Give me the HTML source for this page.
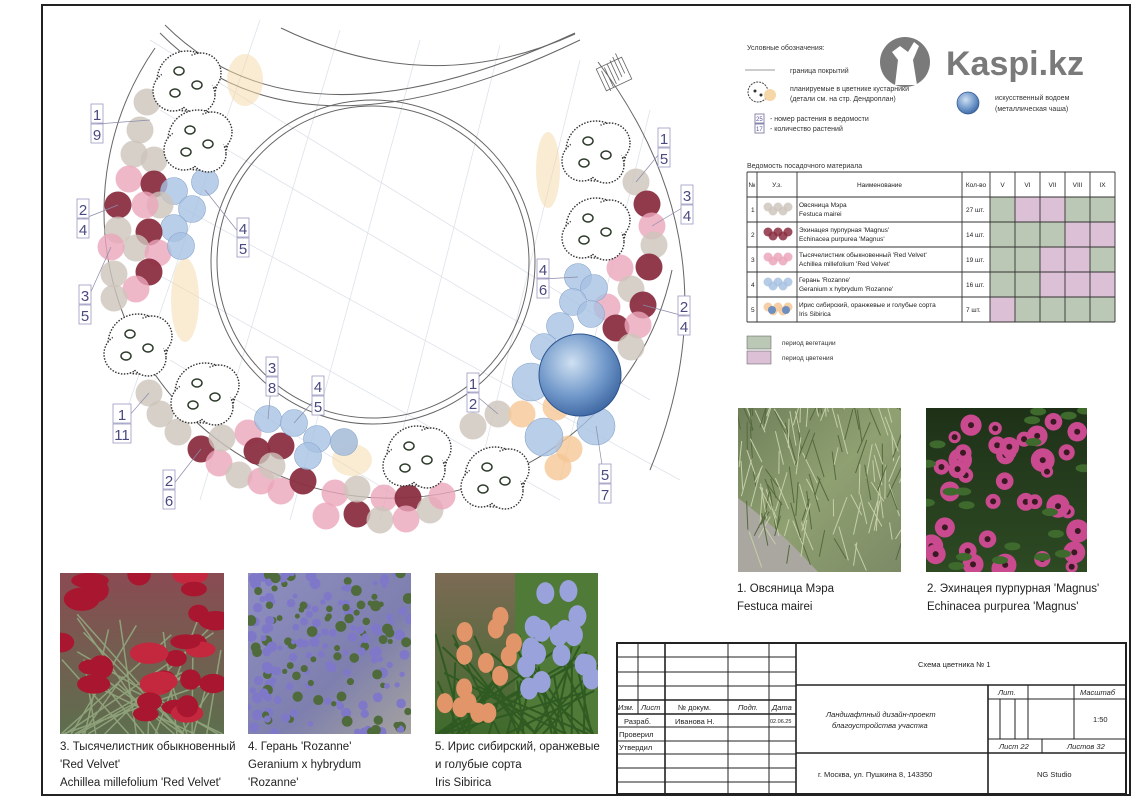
<!DOCTYPE html>
<html><head><meta charset="utf-8"><style>
html,body{margin:0;padding:0;background:#fff}
svg{display:block}
text{font-family:"Liberation Sans","DejaVu Sans",sans-serif}
</style></head><body>
<svg id="s" width="1135" height="803" viewBox="0 0 1135 803" xmlns="http://www.w3.org/2000/svg">
<defs>
<radialGradient id="water" cx="40%" cy="35%" r="70%"><stop offset="0" stop-color="#cfe0f2"/><stop offset="0.6" stop-color="#6f97c9"/><stop offset="1" stop-color="#3b64a0"/></radialGradient>
<linearGradient id="g1" x1="0" y1="0" x2="1" y2="1"><stop offset="0" stop-color="#6f7f5a"/><stop offset="0.5" stop-color="#8fa071"/><stop offset="1" stop-color="#7c8a66"/></linearGradient>
<linearGradient id="g2" x1="0" y1="0" x2="0" y2="1"><stop offset="0" stop-color="#1e3118"/><stop offset="1" stop-color="#2d4a23"/></linearGradient>
<linearGradient id="g3" x1="0" y1="0" x2="0" y2="1"><stop offset="0" stop-color="#8a4b52"/><stop offset="1" stop-color="#5d6f4e"/></linearGradient>
<linearGradient id="g4" x1="0" y1="0" x2="1" y2="1"><stop offset="0" stop-color="#8e8fc0"/><stop offset="0.6" stop-color="#7e7fae"/><stop offset="1" stop-color="#a5a39f"/></linearGradient>
<linearGradient id="g5" x1="0" y1="0" x2="0" y2="1"><stop offset="0" stop-color="#7c6a55"/><stop offset="1" stop-color="#3f6b2c"/></linearGradient>
</defs>
<rect x="42" y="5" width="1088" height="790" fill="none" stroke="#222" stroke-width="2"/>

<g stroke="#dde3ea" stroke-width="0.8" fill="none">
<line x1="150" y1="40" x2="620" y2="330"/><line x1="160" y1="110" x2="650" y2="400"/><line x1="150" y1="190" x2="680" y2="480"/><line x1="150" y1="270" x2="560" y2="500"/><line x1="170" y1="360" x2="420" y2="510"/>
<line x1="260" y1="20" x2="120" y2="430"/><line x1="340" y1="30" x2="200" y2="500"/><line x1="420" y1="40" x2="290" y2="520"/><line x1="500" y1="45" x2="380" y2="520"/><line x1="580" y1="60" x2="470" y2="510"/><line x1="650" y1="110" x2="560" y2="480"/>
</g>
<g fill="none" stroke="#666" stroke-width="1">
<path d="M165 25 Q300 160 575 33"/><path d="M160 33 Q300 175 580 40"/>
<path d="M281 28 Q430 100 575 34"/>
<path d="M598 62 Q740 250 650 470"/>
<circle cx="373" cy="262" r="162"/><circle cx="373" cy="262" r="156"/>
<path d="M155 48 A287 287 0 1 0 672 270"/>
</g>
<g stroke="#666" stroke-width="0.8"><rect x="600" y="62" width="28" height="24" fill="none" transform="rotate(-25 614 74)"/>
<path d="M604 66v22M608 64v22M612 62v22M616 60v22M620 58v22M624 56v22" transform="rotate(-25 614 74)"/></g>

<g fill="#f6d7a8" opacity="0.5">
<ellipse cx="245" cy="80" rx="18" ry="26"/><ellipse cx="185" cy="300" rx="14" ry="42"/><ellipse cx="352" cy="460" rx="20" ry="16"/><ellipse cx="548" cy="170" rx="12" ry="38"/>
</g>

<g id="plants"></g>
<circle cx="580" cy="375" r="41" fill="url(#water)" stroke="#2f5590" stroke-width="1"/>

<g id="labels" font-size="15" fill="#4a4a80"></g>

<g font-size="7" fill="#333">
<text x="747" y="50">Условные обозначения:</text>
<line x1="745" y1="70" x2="775" y2="70" stroke="#999"/>
<text x="790" y="73">граница покрытий</text>
<circle cx="758" cy="92" r="10" fill="#fff" stroke="#444" stroke-dasharray="2 1"/><circle cx="770" cy="95" r="6" fill="#f6d7a8"/>
<circle cx="755" cy="91" r="1.5" fill="#333"/><circle cx="761" cy="95" r="1.5" fill="#333"/>
<text x="790" y="91">планируемые в цветнике кустарники</text>
<text x="790" y="101">(детали см. на стр. Дендроплан)</text>
<circle cx="968" cy="103" r="11" fill="url(#water)" stroke="#2f5590" stroke-width="0.7"/>
<text x="995" y="100">искусственный водоем</text><text x="995" y="111">(металлическая чаша)</text>
<rect x="755" y="114" width="9" height="9" fill="none" stroke="#88a"/><rect x="755" y="124" width="9" height="9" fill="none" stroke="#88a"/>
<text x="756" y="121" font-size="6" fill="#559">25</text><text x="756" y="131" font-size="6" fill="#559">17</text>
<text x="770" y="121">-   номер растения в ведомости</text>
<text x="770" y="131">-   количество растений</text>
<text x="747" y="168">Ведомость посадочного материала</text>
</g>
<g fill="#7a7a7a">
<circle cx="905" cy="62" r="25"/>
<path d="M895 85 l3-25 l-6-8 l8-6 l8 6 l6-10 l5 4 l-6 14 l4 25z" fill="#fff"/>
<text x="946" y="75" font-size="34" font-weight="bold">Kaspi.kz</text>
</g>

<g id="tbl" font-size="6.5" fill="#222"></g>
<rect x="747" y="336" width="24" height="13" fill="#bcc8b6" stroke="#555" stroke-width="0.5"/>
<rect x="747" y="351" width="24" height="13" fill="#dcc0d6" stroke="#555" stroke-width="0.5"/>
<text x="782" y="345" font-size="6.5" fill="#333">период вегетации</text>
<text x="782" y="360" font-size="6.5" fill="#333">период цветения</text>

<g id="photos"></g>

<g font-size="11.5" fill="#222">
<text x="737" y="592">1. Овсяница Мэра</text><text x="737" y="610">Festuca mairei</text>
<text x="927" y="592">2. Эхинацея пурпурная 'Magnus'</text><text x="927" y="610">Echinacea purpurea 'Magnus'</text>
<text x="60" y="750">3. Тысячелистник обыкновенный</text><text x="60" y="768">'Red Velvet'</text><text x="60" y="786">Achillea millefolium 'Red Velvet'</text>
<text x="248" y="750">4. Герань 'Rozanne'</text><text x="248" y="768">Geranium x hybrydum</text><text x="248" y="786">'Rozanne'</text>
<text x="435" y="750">5. Ирис сибирский, оранжевые</text><text x="435" y="768">и голубые сорта</text><text x="435" y="786">Iris Sibirica</text>
</g>

<g stroke="#222" fill="none" stroke-width="1">
<rect x="617" y="643" width="509" height="151" stroke-width="2"/>
<line x1="796" y1="643" x2="796" y2="794" stroke-width="1.6"/>
<line x1="617" y1="657" x2="796" y2="657"/><line x1="617" y1="672" x2="796" y2="672"/><line x1="617" y1="686" x2="796" y2="686"/>
<line x1="617" y1="700" x2="796" y2="700" stroke-width="1.6"/><line x1="617" y1="714" x2="796" y2="714" stroke-width="1.6"/>
<line x1="617" y1="727" x2="796" y2="727"/><line x1="617" y1="741" x2="796" y2="741"/><line x1="617" y1="754" x2="796" y2="754"/>
<line x1="617" y1="768" x2="796" y2="768"/><line x1="617" y1="782" x2="796" y2="782"/>
<line x1="638" y1="643" x2="638" y2="714"/><line x1="665" y1="643" x2="665" y2="794" stroke-width="1.6"/>
<line x1="728" y1="643" x2="728" y2="794"/><line x1="769" y1="643" x2="769" y2="794"/>
<line x1="796" y1="685" x2="1126" y2="685" stroke-width="1.6"/><line x1="796" y1="753" x2="1126" y2="753" stroke-width="1.6"/>
<line x1="988" y1="685" x2="988" y2="794" stroke-width="1.6"/>
<line x1="988" y1="699" x2="1126" y2="699"/><line x1="988" y1="739" x2="1126" y2="739"/>
<line x1="1028" y1="685" x2="1028" y2="739"/><line x1="1074" y1="685" x2="1074" y2="739"/>
<line x1="1000" y1="699" x2="1000" y2="739"/><line x1="1015" y1="699" x2="1015" y2="739"/>
<line x1="1042" y1="739" x2="1042" y2="753"/>
</g>
<g font-size="7.5" fill="#222">
<text x="618" y="710" font-style="italic">Изм.</text><text x="641" y="710" font-style="italic">Лист</text>
<text x="678" y="710">№  докум.</text><text x="738" y="710" font-style="italic">Подп.</text><text x="772" y="710" font-style="italic">Дата</text>
<text x="624" y="724">Разраб.</text><text x="675" y="724">Иванова Н.</text><text x="770" y="723" font-size="5.5">02.06.25</text>
<text x="619" y="737">Проверил</text><text x="619" y="750">Утвердил</text>
<text x="918" y="667">Схема цветника № 1</text>
<text x="826" y="717" font-style="italic">Ландшафтный дизайн-проект</text>
<text x="832" y="728" font-style="italic">благоустройства участка</text>
<text x="818" y="777">г. Москва, ул. Пушкина 8, 143350</text>
<text x="998" y="695" font-style="italic">Лит.</text><text x="1080" y="695" font-style="italic">Масштаб</text>
<text x="1093" y="722">1:50</text>
<text x="999" y="749" font-style="italic">Лист 22</text><text x="1067" y="749" font-style="italic">Листов 32</text>
<text x="1037" y="777">NG Studio</text>
</g>
</svg>
<script>
var NS="http://www.w3.org/2000/svg";
function el(p,t,a){var e=document.createElementNS(NS,t);for(var k in a)e.setAttribute(k,a[k]);p.appendChild(e);return e;}
var P=document.getElementById('plants');
var C={g:'#cdc4bb',d:'#8b2f42',p:'#eba6bb',b:'#a8c2e2',o:'#f5c795'};
var pts=[
['g',147,102],['g',140,130],['g',134,154],['g',154,160],['p',129,179],['d',154,184],['b',174,191],['b',205,182],
['g',160,205],['d',118,205],['p',145,205],['b',192,209],['g',118,230],['b',174,228],['d',149,232],['g',136,248],['p',111,247],['p',158,253],['b',181,246],
['d',149,272],['g',114,274],['p',136,289],['g',114,298],
['g',149,393],['g',160,414],['g',178,432],['d',201,449],['p',219,463],['g',239,475],['g',222,438],['p',248,433],['d',257,451],['d',281,446],['p',261,481],['p',281,491],
['d',303,481],['g',272,466],['p',326,516],['p',335,493],['d',357,514],['g',357,489],['p',384,498],['g',380,520],['d',408,498],['p',406,519],['g',430,510],['p',442,496],
['b',268,419],['b',294,423],['b',317,439],['g',344,442],['b',344,442],['b',308,456],
['g',636,182],['d',647,204],['p',652,226],['g',654,245],['d',649,267],['p',620,268],['g',631,289],['d',643,305],['p',607,307],['d',616,328],['p',638,325],['g',631,347],
['b',578,277],['b',594,288],['b',573,302],['b',591,314],['b',560,326],['b',544,347],
['g',498,414],['g',473,426],['o',522,414],['o',556,407],['o',569,449],['o',558,467],
['b',531,382],['b',596,426],['b',544,437]];
pts.forEach(function(q){el(P,'circle',{cx:q[1],cy:q[2],r:q[0]=='b'&&q[1]>520&&q[2]>370?19:13.5,fill:C[q[0]],'fill-opacity':q[0]=='d'?0.95:0.8,stroke:q[0]=='b'?'#8aa6cc':'none','stroke-width':0.6});});
var T=[[187,81],[198,140],[596,151],[596,228],[138,344],[205,393],[417,456],[495,477]];
T.forEach(function(t){var g=el(P,'g',{});
[[0,0,30],[-14,10,20],[14,-8,20],[10,14,18]].forEach(function(o){el(g,'circle',{cx:t[0]+o[0],cy:t[1]+o[1],r:o[2],fill:'#fff',stroke:'#333','stroke-width':1.4,'stroke-dasharray':'1.5 1.5'});});
el(g,'circle',{cx:t[0],cy:t[1],r:26,fill:'#fff'});
[[-8,-10],[10,4],[-12,12]].forEach(function(o){el(g,'ellipse',{cx:t[0]+o[0],cy:t[1]+o[1],rx:5,ry:4,fill:'none',stroke:'#2c3a2a','stroke-width':1.5});});
});
var L=document.getElementById('labels');
var lab=[['1','9',91,104,150,120],['2','4',77,199,118,205],['3','5',79,285,111,247],['4','5',237,218,205,190],['1','11',113,404,149,393],['2','6',163,470,201,449],['3','8',266,357,268,419],['4','5',312,376,294,423],['1','2',467,373,498,414],['4','6',537,259,578,277],['1','5',658,128,636,182],['3','4',681,185,652,226],['2','4',678,296,643,305],['5','7',599,464,596,426]];
lab.forEach(function(a){var x=a[2],y=a[3],w=a[1].length>1?18:12;
el(L,'line',{x1:x+w/2,y1:y+20,x2:a[4],y2:a[5],stroke:'#8a8aaa','stroke-width':0.7});
el(L,'rect',{x:x,y:y,width:w,height:19,fill:'#fff',stroke:'#9a9ac0','stroke-width':0.8});
el(L,'rect',{x:x,y:y+20,width:w,height:19,fill:'#fff',stroke:'#9a9ac0','stroke-width':0.8});
var t1=el(L,'text',{x:x+w/2,y:y+16,'text-anchor':'middle'});t1.textContent=a[0];
var t2=el(L,'text',{x:x+w/2,y:y+36,'text-anchor':'middle'});t2.textContent=a[1];});
var TB=document.getElementById('tbl');
var xs=[747,757,797,962,990,1015,1040,1065,1090,1115],ys=[172,197,222,247,272,297,322];
var G='#bcc8b6',Pk='#dcc0d6';
var cols=[[G,Pk,Pk,G,G],[G,G,G,Pk,Pk],[G,G,Pk,Pk,G],[G,G,Pk,Pk,Pk],[Pk,G,G,G,G]];
cols.forEach(function(r,i){r.forEach(function(c,j){el(TB,'rect',{x:xs[4+j],y:ys[i+1],width:25,height:25,fill:c});});});
var hd=['№','У.з.','Наименование','Кол-во','V','VI','VII','VIII','IX'];
hd.forEach(function(h,i){var t=el(TB,'text',{x:(xs[i]+xs[i+1])/2,y:187,'text-anchor':'middle'});t.textContent=h;});
var nm=[['Овсяница Мэра','Festuca mairei','27 шт.','#cfc7be'],['Эхинацея пурпурная \'Magnus\'','Echinacea purpurea \'Magnus\'','14 шт.','#8b2f42'],['Тысячелистник обыкновенный \'Red Velvet\'','Achillea millefolium \'Red Velvet\'','19 шт.','#eba6bb'],['Герань \'Rozanne\'','Geranium x hybrydum \'Rozanne\'','16 шт.','#a8c2e2'],['Ирис сибирский, оранжевые и голубые сорта','Iris Sibirica','7 шт.','#f5c795']];
nm.forEach(function(n,i){var y=ys[i+1];
var t=el(TB,'text',{x:751,y:y+15});t.textContent=i+1;
for(var k=0;k<5;k++)el(TB,'circle',{cx:768+k*5,cy:y+12+(k%2?2:-2),r:4.5,fill:n[3],'fill-opacity':0.85});
if(i==4){el(TB,'circle',{cx:772,cy:y+13,r:4,fill:'#6d8fc0'});el(TB,'circle',{cx:786,cy:y+13,r:4,fill:'#6d8fc0'});}
var a=el(TB,'text',{x:799,y:y+10});a.textContent=n[0];var b=el(TB,'text',{x:799,y:y+19});b.textContent=n[1];
var c=el(TB,'text',{x:966,y:y+15});c.textContent=n[2];});
xs.forEach(function(x){el(TB,'line',{x1:x,y1:172,x2:x,y2:322,stroke:'#333','stroke-width':0.9});});
ys.forEach(function(y){el(TB,'line',{x1:747,y1:y,x2:1115,y2:y,stroke:'#333','stroke-width':0.9});});
var PH=document.getElementById('photos');
var seed=7;function rnd(){seed=(seed*9301+49297)%233280;return seed/233280;}
function photo(x,y,w,h,bg,spots){el(PH,'rect',{x:x,y:y,width:w,height:h,fill:bg});
var cp=el(PH,'clipPath',{id:'c'+x});el(cp,'rect',{x:x,y:y,width:w,height:h});
var g=el(PH,'g',{'clip-path':'url(#c'+x+')'});spots(g,x,y,w,h);}
photo(738,408,163,164,'url(#g1)',function(g,x,y,w,h){
el(g,'path',{d:'M'+x+' '+(y+90)+' Q'+(x+40)+' '+(y+120)+' '+(x+80)+' '+(y+h)+' L'+x+' '+(y+h)+'Z',fill:'#a9a79f'});
for(var i=0;i<140;i++){var a=x+rnd()*w,b=y+rnd()*h;el(g,'line',{x1:a,y1:b,x2:a+(rnd()-0.5)*30,y2:b-15-rnd()*25,stroke:rnd()<0.5?'#c5cfa8':'#566a3f','stroke-width':1});}});
photo(926,408,161,164,'url(#g2)',function(g,x,y,w,h){for(var i=0;i<40;i++){var a=x+rnd()*w,b=y+10+rnd()*(h-10);el(g,'circle',{cx:a,cy:b,r:6+rnd()*6,fill:'#c94a8f'});el(g,'circle',{cx:a,cy:b,r:3,fill:'#3a1a22'});}
for(var i=0;i<20;i++)el(g,'ellipse',{cx:x+rnd()*w,cy:y+rnd()*h,rx:8,ry:4,fill:'#3f6a2e'});});
photo(60,573,164,161,'url(#g3)',function(g,x,y,w,h){for(var i=0;i<30;i++)el(g,'line',{x1:x+rnd()*w,y1:y+h,x2:x+rnd()*w,y2:y+40+rnd()*80,stroke:'#8ea17a','stroke-width':1.5});
for(var i=0;i<28;i++)el(g,'ellipse',{cx:x+rnd()*w,cy:y+rnd()*h*0.9,rx:10+rnd()*10,ry:7+rnd()*5,fill:rnd()<0.7?'#a8172f':'#c4283f'});});
photo(248,573,163,161,'url(#g4)',function(g,x,y,w,h){for(var i=0;i<200;i++)el(g,'circle',{cx:x+rnd()*w,cy:y+rnd()*h,r:2.5+rnd()*3,fill:rnd()<0.6?'#7f78c9':'#4f6a3b'});});
photo(435,573,163,161,'url(#g5)',function(g,x,y,w,h){el(g,'rect',{x:x+80,y:y,width:83,height:h,fill:'#4f7a37'});
for(var i=0;i<40;i++)el(g,'line',{x1:x+rnd()*w,y1:y+h,x2:x+rnd()*w,y2:y+60+rnd()*60,stroke:'#2f5a22','stroke-width':2});
for(var i=0;i<14;i++)el(g,'ellipse',{cx:x+5+rnd()*75,cy:y+20+rnd()*120,rx:8,ry:10,fill:'#e3956a'});
for(var i=0;i<18;i++)el(g,'ellipse',{cx:x+85+rnd()*75,cy:y+15+rnd()*110,rx:9,ry:11,fill:'#9aa2dc'});});
</script>
</body></html>
